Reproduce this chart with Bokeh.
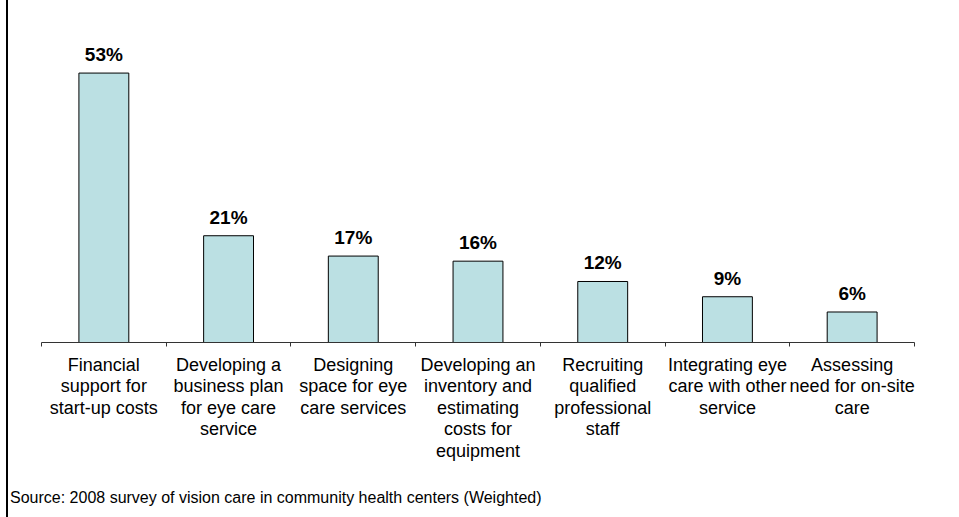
from bokeh.plotting import figure
from bokeh.models import ColumnDataSource, LabelSet, FixedTicker, Div
from bokeh.layouts import row, column
from bokeh.core.properties import value
from bokeh.embed import file_html
from bokeh.resources import INLINE

categories = [
    "Financial\nsupport for\nstart-up costs",
    "Developing a\nbusiness plan\nfor eye care\nservice",
    "Designing\nspace for eye\ncare services",
    "Developing an\ninventory and\nestimating\ncosts for\nequipment",
    "Recruiting\nqualified\nprofessional\nstaff",
    "Integrating eye\ncare with other\nservice",
    "Assessing\nneed for on-site\ncare",
]
values = [53, 21, 17, 16, 12, 9, 6]
value_labels = [f"{v}%" for v in values]
source_note = "Source: 2008 survey of vision care in community health centers (Weighted)"

FONT = "Liberation Sans"
n = len(categories)
xs = list(range(n))

src = ColumnDataSource(dict(x=xs, v=values, lab=value_labels))

p = figure(width=951, height=474, x_range=(-0.5, n - 0.5), y_range=(0, 65.7),
           output_backend="svg", toolbar_location=None,
           min_border_left=33, min_border_right=45, min_border_top=8, min_border_bottom=132)
p.outline_line_color = None
p.xgrid.visible = False
p.ygrid.visible = False
p.yaxis.visible = False

p.vbar(x="x", top="v", width=0.4, source=src, fill_color="#bbe0e3",
       line_color="#000000", line_width=1)

ax = p.xaxis[0]
ax.ticker = FixedTicker(ticks=xs, minor_ticks=[i - 0.5 for i in range(n + 1)])
ax.major_label_overrides = {i: c for i, c in zip(xs, categories)}
ax.major_tick_out = 0
ax.major_tick_in = 0
ax.minor_tick_out = 4
ax.minor_tick_in = 0
ax.minor_tick_line_color = "#333333"
ax.axis_line_color = "#333333"
ax.major_label_standoff = 8
ax.major_label_text_font = FONT
ax.major_label_text_font_size = "18px"
ax.major_label_text_line_height = 1.08
ax.major_label_text_color = "#000000"
ax.major_label_orientation = "horizontal"

labels = LabelSet(x="x", y="v", text="lab", source=src, y_offset=8,
                  text_align="center", text_baseline="bottom",
                  text_font=value(FONT), text_font_size=value("19px"),
                  text_font_style="bold", text_color="#000000")
p.add_layout(labels)

note = Div(text=source_note, width=951, height=43, margin=(0, 0, 0, 0),
           styles={"font-family": "'Liberation Sans', Arial, sans-serif",
                   "font-size": "16px", "color": "#000000",
                   "padding-left": "2px", "padding-top": "13px",
                   "box-sizing": "border-box", "white-space": "nowrap"})

edge = Div(text="", width=8, height=517, margin=(0, 0, 0, 0),
           styles={"background": "linear-gradient(to right, #ffffff 6px, #000000 6px)"})

layout = row(edge, column(p, note, spacing=0), spacing=0)

open("out.html", "w").write(file_html(layout, INLINE))
